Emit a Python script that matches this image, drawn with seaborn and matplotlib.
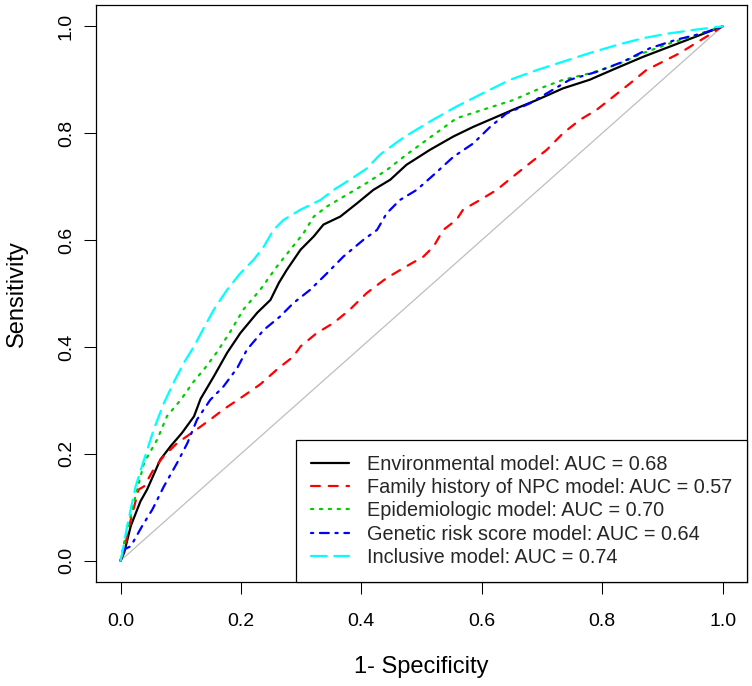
import numpy as np
import pandas as pd
import matplotlib
matplotlib.use("Agg")
import matplotlib.pyplot as plt
import seaborn as sns

# ROC curves (1 - specificity, sensitivity)
env_fpr = [0, 0.006, 0.017, 0.033, 0.044, 0.066, 0.083, 0.102, 0.122, 0.133, 0.155, 0.177,
           0.199, 0.227, 0.249, 0.263, 0.276, 0.299, 0.321, 0.337, 0.365, 0.393, 0.420, 0.448,
           0.475, 0.514, 0.553, 0.586, 0.619, 0.652, 0.691, 0.735, 0.779, 0.824, 0.868, 0.912,
           0.956, 1.0]
env_tpr = [0, 0.015, 0.065, 0.111, 0.133, 0.189, 0.214, 0.239, 0.270, 0.303, 0.345, 0.389,
           0.426, 0.464, 0.488, 0.520, 0.544, 0.582, 0.607, 0.629, 0.644, 0.669, 0.694, 0.713,
           0.741, 0.769, 0.794, 0.812, 0.828, 0.844, 0.862, 0.884, 0.900, 0.922, 0.943, 0.962,
           0.981, 1.0]

fam_fpr = [0, 0.006, 0.017, 0.030, 0.039, 0.055, 0.072, 0.094, 0.122, 0.149, 0.171, 0.204,
           0.232, 0.260, 0.287, 0.299, 0.326, 0.354, 0.381, 0.409, 0.442, 0.475, 0.503, 0.520,
           0.536, 0.558, 0.569, 0.597, 0.625, 0.652, 0.680, 0.708, 0.735, 0.763, 0.791, 0.818,
           0.846, 0.873, 0.901, 0.929, 0.956, 0.978, 1.0]
fam_tpr = [0, 0.021, 0.077, 0.133, 0.139, 0.171, 0.196, 0.220, 0.242, 0.264, 0.283, 0.308,
           0.330, 0.358, 0.382, 0.401, 0.426, 0.445, 0.470, 0.501, 0.529, 0.551, 0.569, 0.588,
           0.619, 0.638, 0.657, 0.675, 0.694, 0.719, 0.744, 0.769, 0.800, 0.825, 0.844, 0.868,
           0.893, 0.918, 0.934, 0.950, 0.969, 0.984, 1.0]

epi_fpr = [0, 0.006, 0.022, 0.039, 0.061, 0.077, 0.100, 0.122, 0.140, 0.160, 0.182, 0.204,
           0.232, 0.260, 0.282, 0.304, 0.321, 0.343, 0.376, 0.409, 0.442, 0.475, 0.514, 0.558,
           0.602, 0.652, 0.697, 0.735, 0.779, 0.824, 0.868, 0.912, 0.956, 1.0]
epi_tpr = [0, 0.034, 0.108, 0.183, 0.227, 0.270, 0.301, 0.336, 0.360, 0.390, 0.428, 0.470,
           0.507, 0.551, 0.582, 0.613, 0.644, 0.663, 0.685, 0.707, 0.731, 0.760, 0.792, 0.828,
           0.844, 0.862, 0.884, 0.900, 0.912, 0.928, 0.950, 0.968, 0.984, 1.0]

grs_fpr = [0, 0.006, 0.017, 0.036, 0.053, 0.072, 0.094, 0.111, 0.127, 0.149, 0.171, 0.194,
           0.210, 0.238, 0.265, 0.287, 0.315, 0.343, 0.370, 0.404, 0.426, 0.442, 0.464, 0.492,
           0.520, 0.553, 0.586, 0.614, 0.641, 0.680, 0.713, 0.746, 0.791, 0.835, 0.879, 0.923,
           0.967, 1.0]
grs_tpr = [0, 0.021, 0.027, 0.065, 0.096, 0.139, 0.183, 0.220, 0.264, 0.301, 0.326, 0.361,
           0.395, 0.432, 0.457, 0.482, 0.507, 0.538, 0.569, 0.601, 0.619, 0.650, 0.675, 0.694,
           0.722, 0.756, 0.781, 0.812, 0.837, 0.856, 0.878, 0.900, 0.915, 0.934, 0.959, 0.975,
           0.987, 1.0]

inc_fpr = [0, 0.003, 0.011, 0.025, 0.039, 0.055, 0.072, 0.088, 0.105, 0.122, 0.138, 0.155,
           0.177, 0.199, 0.221, 0.238, 0.254, 0.271, 0.299, 0.332, 0.354, 0.381, 0.409, 0.431,
           0.470, 0.514, 0.558, 0.602, 0.647, 0.691, 0.735, 0.779, 0.824, 0.868, 0.912, 0.956,
           1.0]
inc_tpr = [0, 0.015, 0.065, 0.139, 0.189, 0.245, 0.295, 0.333, 0.370, 0.401, 0.435, 0.470,
           0.507, 0.538, 0.563, 0.588, 0.619, 0.638, 0.657, 0.675, 0.694, 0.713, 0.734, 0.760,
           0.792, 0.822, 0.850, 0.875, 0.900, 0.918, 0.934, 0.950, 0.965, 0.978, 0.987, 0.994,
           1.0]

labels = ["Environmental model: AUC = 0.68",
          "Family history of NPC model: AUC = 0.57",
          "Epidemiologic model: AUC = 0.70",
          "Genetic risk score model: AUC = 0.64",
          "Inclusive model: AUC = 0.74"]
chance = [0.0, 1.0]
ticks = [0.0, 0.2, 0.4, 0.6, 0.8, 1.0]
tick_labels = ["0.0", "0.2", "0.4", "0.6", "0.8", "1.0"]

sns.set_theme(style="ticks")
plt.rcParams["font.family"] = ["Liberation Sans", "DejaVu Sans"]

fig = plt.figure(figsize=(7.52, 6.86), dpi=100)
ax = fig.add_axes([0.1283, 0.1516, 0.8646, 0.8411])

# chance diagonal
sns.lineplot(x=chance, y=chance, ax=ax, color="#BEBEBE", lw=0.9,
             estimator=None, sort=False)

curves = [(env_fpr, env_tpr, "black", "-"),
          (fam_fpr, fam_tpr, "#FF0000", (0, (4, 4))),
          (epi_fpr, epi_tpr, "#00CD00", (0, (1, 3))),
          (grs_fpr, grs_tpr, "#0000FF", (0, (1, 3, 4, 3))),
          (inc_fpr, inc_tpr, "#00FFFF", (0, (7, 3.5)))]

handles = []
for (fx, ty, col, ls), lab in zip(curves, labels):
    df = pd.DataFrame({"fpr": fx, "tpr": ty})
    sns.lineplot(data=df, x="fpr", y="tpr", ax=ax, color=col, lw=1.6,
                 estimator=None, sort=False)
    line = ax.lines[-1]
    line.set_linestyle(ls)
    line.set_dash_capstyle("round")
    line.set_solid_capstyle("round")
    handles.append(line)

ax.set_xlim(-0.04, 1.04)
ax.set_ylim(-0.04, 1.04)
ax.set_xticks(ticks)
ax.set_xticklabels(tick_labels)
ax.set_yticks(ticks)
ax.set_yticklabels(tick_labels, rotation=90, va="center")
ax.tick_params(axis="both", direction="out", length=8.6, width=0.75,
               color="black", labelsize=14, labelcolor="black")
ax.tick_params(axis="x", pad=14)
ax.tick_params(axis="y", pad=7)

for sp in ax.spines.values():
    sp.set_visible(True)
    sp.set_color("black")
    sp.set_linewidth(0.9)

ax.set_xlabel("1- Specificity", fontsize=17, color="black")
ax.set_ylabel("Sensitivity", fontsize=17, color="black")
ax.xaxis.set_label_coords(0.5, -0.129)
ax.yaxis.set_label_coords(-0.105, 0.5)

leg = ax.legend(handles, labels, loc="lower right", fontsize=14.3,
                borderaxespad=0, fancybox=False, framealpha=1,
                edgecolor="black", handlelength=1.9, handletextpad=0.9,
                borderpad=0.75, labelspacing=0.22)
leg.get_frame().set_linewidth(0.9)

plt.savefig("out.png", dpi=100)
